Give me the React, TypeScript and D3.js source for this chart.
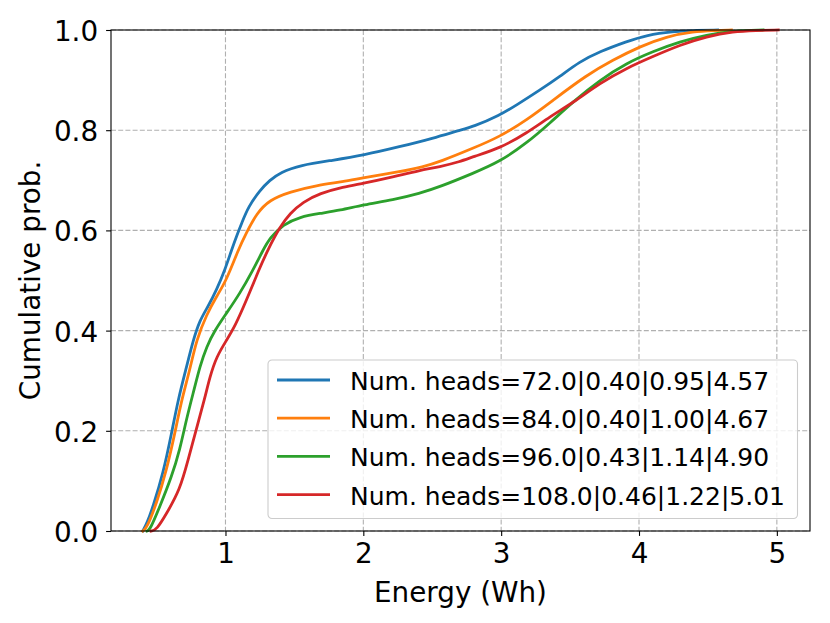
import { useRef, useEffect } from 'react';
import * as d3 from 'd3';

// ECDF samples (energy in Wh, cumulative probability)
const heads72Energy = [0.40, 0.43, 0.475, 0.548, 0.609, 0.657, 0.718, 0.766, 0.814, 0.874, 0.935, 0.996, 1.044, 1.085, 1.117, 1.165, 1.25, 1.32, 1.40, 1.54, 1.78, 2.0, 2.265, 2.507, 2.70, 2.797, 2.99, 3.11, 3.28, 3.425, 3.57, 3.716, 3.91, 4.055, 4.248, 4.40, 4.57];
const heads72Prob = [0, 0.015, 0.049, 0.115, 0.195, 0.263, 0.328, 0.381, 0.421, 0.448, 0.481, 0.521, 0.561, 0.592, 0.614, 0.647, 0.68, 0.70, 0.716, 0.73, 0.74, 0.75, 0.767, 0.784, 0.80, 0.807, 0.83, 0.85, 0.88, 0.907, 0.937, 0.957, 0.977, 0.99, 0.997, 0.999, 1.0];

const heads84Energy = [0.40, 0.428, 0.50, 0.573, 0.633, 0.681, 0.742, 0.79, 0.863, 0.935, 1.008, 1.092, 1.153, 1.226, 1.32, 1.467, 1.661, 1.854, 2.0, 2.265, 2.434, 2.555, 2.797, 2.99, 3.184, 3.377, 3.62, 3.81, 4.006, 4.2, 4.393, 4.55, 4.67];
const heads84Prob = [0, 0.005, 0.055, 0.122, 0.195, 0.261, 0.322, 0.382, 0.432, 0.468, 0.501, 0.561, 0.596, 0.634, 0.661, 0.677, 0.69, 0.697, 0.705, 0.717, 0.727, 0.737, 0.764, 0.787, 0.82, 0.86, 0.91, 0.94, 0.967, 0.987, 0.997, 0.999, 1.0];

const heads96Energy = [0.43, 0.452, 0.524, 0.609, 0.669, 0.718, 0.775, 0.814, 0.863, 0.923, 1.008, 1.104, 1.2, 1.273, 1.322, 1.419, 1.54, 1.685, 1.83, 2.0, 2.217, 2.41, 2.555, 2.797, 2.99, 3.184, 3.353, 3.522, 3.716, 3.91, 4.10, 4.297, 4.49, 4.683, 4.90];
const heads96Prob = [0, 0.002, 0.049, 0.108, 0.162, 0.225, 0.285, 0.328, 0.368, 0.401, 0.435, 0.474, 0.521, 0.561, 0.585, 0.612, 0.627, 0.634, 0.64, 0.651, 0.661, 0.674, 0.687, 0.714, 0.737, 0.774, 0.814, 0.857, 0.9, 0.934, 0.957, 0.977, 0.99, 0.9986, 1.0];

const heads108Energy = [0.46, 0.50, 0.573, 0.669, 0.729, 0.79, 0.85, 0.887, 0.935, 1.008, 1.068, 1.153, 1.24, 1.31, 1.395, 1.467, 1.564, 1.685, 1.854, 2.0, 2.217, 2.41, 2.555, 2.70, 2.797, 2.99, 3.184, 3.353, 3.522, 3.716, 3.91, 4.10, 4.297, 4.49, 4.683, 4.85, 5.01];
const heads108Prob = [0, 0.002, 0.035, 0.082, 0.142, 0.205, 0.265, 0.308, 0.348, 0.381, 0.408, 0.461, 0.52, 0.563, 0.607, 0.634, 0.657, 0.674, 0.687, 0.694, 0.707, 0.72, 0.727, 0.737, 0.747, 0.764, 0.794, 0.827, 0.855, 0.894, 0.924, 0.947, 0.97, 0.987, 0.997, 0.999, 1.0];

const seriesLabels = [
    'Num. heads=72.0|0.40|0.95|4.57',
    'Num. heads=84.0|0.40|1.00|4.67',
    'Num. heads=96.0|0.43|1.14|4.90',
    'Num. heads=108.0|0.46|1.22|5.01',
];
const seriesColors = ['#1f77b4', '#ff7f0e', '#2ca02c', '#d62728'];
const xTicks = [1, 2, 3, 4, 5];
const yTicks = [0, 0.2, 0.4, 0.6, 0.8, 1.0];

export default function App() {
    const ref = useRef<HTMLDivElement>(null);

    useEffect(() => {
        if (!ref.current) return;
        const w = 830;
        const h = 623;
        const left = 111;
        const right = 810;
        const top = 30;
        const bottom = 531;
        const font = 'DejaVu Sans, sans-serif';

        d3.select(ref.current).selectAll('*').remove();
        const svg = d3
            .select(ref.current)
            .append('svg')
            .attr('width', w)
            .attr('height', h)
            .style('display', 'block')
            .style('background', '#fff');

        const x = d3.scaleLinear().domain([0.1695, 5.2405]).range([left, right]);
        const y = d3.scaleLinear().domain([0, 1]).range([bottom, top]);

        // grid
        const grid = svg.append('g').attr('stroke', '#b0b0b0').attr('stroke-width', 1.1).attr('stroke-dasharray', '5,2.2');
        xTicks.forEach((t) => {
            grid.append('line').attr('x1', x(t)).attr('x2', x(t)).attr('y1', top).attr('y2', bottom);
        });
        yTicks.forEach((t) => {
            grid.append('line').attr('x1', left).attr('x2', right).attr('y1', y(t)).attr('y2', y(t));
        });

        // curves
        const series = [
            { xs: heads72Energy, ys: heads72Prob },
            { xs: heads84Energy, ys: heads84Prob },
            { xs: heads96Energy, ys: heads96Prob },
            { xs: heads108Energy, ys: heads108Prob },
        ];
        const line = d3
            .line<[number, number]>()
            .x((d) => x(d[0]))
            .y((d) => y(d[1]))
            .curve(d3.curveBasis);
        const plot = svg.append('g');
        series.forEach((s, i) => {
            const pts = s.xs.map((v, j) => [v, s.ys[j]] as [number, number]);
            plot
                .append('path')
                .attr('d', line(pts))
                .attr('fill', 'none')
                .attr('stroke', seriesColors[i])
                .attr('stroke-width', 2.8)
                .attr('stroke-linejoin', 'round')
                .attr('stroke-linecap', 'square');
        });

        // spines
        svg
            .append('rect')
            .attr('x', left)
            .attr('y', top)
            .attr('width', right - left)
            .attr('height', bottom - top)
            .attr('fill', 'none')
            .attr('stroke', '#000')
            .attr('stroke-width', 1.1);

        // axes
        const xAxis = svg
            .append('g')
            .attr('transform', `translate(0,${bottom})`)
            .call(d3.axisBottom(x).tickValues(xTicks).tickFormat(d3.format('d')).tickSize(4.9).tickPadding(6));
        xAxis.select('.domain').remove();
        xAxis.selectAll('line').attr('stroke', '#000').attr('stroke-width', 1.1);
        xAxis.selectAll('text').attr('font-family', font).attr('font-size', 27.8).attr('fill', '#000').attr('dy', '0.76em');

        const yAxis = svg
            .append('g')
            .attr('transform', `translate(${left},0)`)
            .call(d3.axisLeft(y).tickValues(yTicks).tickFormat(d3.format('.1f')).tickSize(4.9).tickPadding(8));
        yAxis.select('.domain').remove();
        yAxis.selectAll('line').attr('stroke', '#000').attr('stroke-width', 1.1);
        yAxis.selectAll('text').attr('font-family', font).attr('font-size', 27.8).attr('fill', '#000').attr('dy', '0.38em');

        // axis titles
        svg
            .append('text')
            .attr('x', (left + right) / 2)
            .attr('y', 602)
            .attr('text-anchor', 'middle')
            .attr('font-family', font)
            .attr('font-size', 27.8)
            .text('Energy (Wh)');
        svg
            .append('text')
            .attr('transform', `translate(40,${(top + bottom) / 2}) rotate(-90)`)
            .attr('text-anchor', 'middle')
            .attr('font-family', font)
            .attr('font-size', 27.8)
            .text('Cumulative prob.');

        // legend (lower right)
        const legW = 529.5;
        const legH = 158.5;
        const legX = right - 12.5 - legW;
        const legY = bottom - 12.5 - legH;
        const leg = svg.append('g').attr('transform', `translate(${legX},${legY})`);
        leg
            .append('rect')
            .attr('width', legW)
            .attr('height', legH)
            .attr('rx', 4)
            .attr('fill', '#fff')
            .attr('fill-opacity', 0.8)
            .attr('stroke', '#cccccc')
            .attr('stroke-width', 1.1);
        seriesLabels.forEach((label, i) => {
            const cy = 20 + i * 38.2;
            leg
                .append('line')
                .attr('x1', 9)
                .attr('x2', 62)
                .attr('y1', cy)
                .attr('y2', cy)
                .attr('stroke', seriesColors[i])
                .attr('stroke-width', 2.8);
            leg
                .append('text')
                .attr('x', 82)
                .attr('y', cy + 10)
                .attr('font-family', font)
                .attr('font-size', 25)
                .attr('fill', '#000')
                .text(label);
        });
    }, []);

    return <div ref={ref} style={{ position: 'absolute', left: 0, top: 0 }} />;
}
